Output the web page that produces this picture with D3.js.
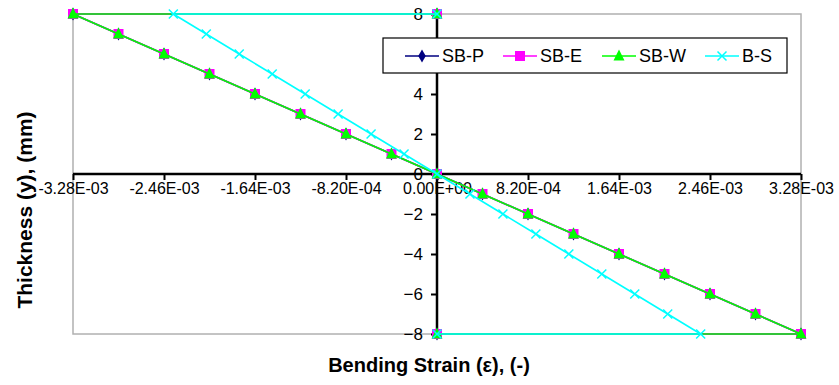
<!DOCTYPE html>
<html>
<head>
<meta charset="utf-8">
<script src="https://cdn.jsdelivr.net/npm/d3@7"></script>
<style>
  html, body { margin: 0; padding: 0; background: #fff; }
  svg { display: block; }
  text { font-family: "Liberation Sans", Arial, sans-serif; }
</style>
</head>
<body>
<svg id="chart" width="839" height="385"></svg>
<script>
// ---- data ----
const thickness = [8, 8, 7, 6, 5, 4, 3, 2, 1, 0, -1, -2, -3, -4, -5, -6, -7, -8, -8];
const sbpStrain = [0, -3.28e-3, -2.87e-3, -2.46e-3, -2.05e-3, -1.64e-3, -1.23e-3, -8.2e-4, -4.1e-4, 0, 4.1e-4, 8.2e-4, 1.23e-3, 1.64e-3, 2.05e-3, 2.46e-3, 2.87e-3, 3.28e-3, 0];
const sbeStrain = [0, -3.28e-3, -2.87e-3, -2.46e-3, -2.05e-3, -1.64e-3, -1.23e-3, -8.2e-4, -4.1e-4, 0, 4.1e-4, 8.2e-4, 1.23e-3, 1.64e-3, 2.05e-3, 2.46e-3, 2.87e-3, 3.28e-3, 0];
const sbwStrain = [0, -3.28e-3, -2.87e-3, -2.46e-3, -2.05e-3, -1.64e-3, -1.23e-3, -8.2e-4, -4.1e-4, 0, 4.1e-4, 8.2e-4, 1.23e-3, 1.64e-3, 2.05e-3, 2.46e-3, 2.87e-3, 3.28e-3, 0];
const bsStrain  = [0, -2.376e-3, -2.079e-3, -1.782e-3, -1.485e-3, -1.188e-3, -8.91e-4, -5.94e-4, -2.97e-4, 0, 2.97e-4, 5.94e-4, 8.91e-4, 1.188e-3, 1.485e-3, 1.782e-3, 2.079e-3, 2.376e-3, 0];
const seriesNames = ["SB-P", "SB-E", "SB-W", "B-S"];
const xTickValues = [-3.28e-3, -2.46e-3, -1.64e-3, -8.2e-4, 0, 8.2e-4, 1.64e-3, 2.46e-3, 3.28e-3];
const xTickLabels = ["-3.28E-03", "-2.46E-03", "-1.64E-03", "-8.20E-04", "0.00E+00", "8.20E-04", "1.64E-03", "2.46E-03", "3.28E-03"];
const yTickValues = [-8, -6, -4, -2, 0, 2, 4, 6, 8];
const xTitle = "Bending Strain (\u03b5), (-)";
const yTitle = "Thickness (y), (mm)";

// ---- styles ----
const styles = [
  { color: "#000080", marker: "diamond" },
  { color: "#FF00FF", marker: "square" },
  { color: "#00FF00", marker: "triangle" },
  { color: "#00FFFF", marker: "cross" }
];
const strains = [sbpStrain, sbeStrain, sbwStrain, bsStrain];

const svg = d3.select("#chart");
const plot = { left: 73, right: 801, top: 14, bottom: 334 };

const x = d3.scaleLinear().domain([-3.28e-3, 3.28e-3]).range([plot.left, plot.right]);
const y = d3.scaleLinear().domain([-8, 8]).range([plot.bottom, plot.top]);

// plot area border
svg.append("rect")
  .attr("x", plot.left).attr("y", plot.top)
  .attr("width", plot.right - plot.left).attr("height", plot.bottom - plot.top)
  .attr("fill", "none").attr("stroke", "#b0b0b0").attr("stroke-width", 1.5);

// x axis at y=0
const xAxis = d3.axisBottom(x).tickValues(xTickValues).tickSize(6)
  .tickFormat((d, i) => xTickLabels[i]);
const gx = svg.append("g").attr("transform", `translate(0,${y(0)})`).call(xAxis);
gx.select(".domain").attr("stroke", "#000").attr("stroke-width", 2.5)
  .attr("d", `M${plot.left},0H${plot.right}`);
gx.selectAll(".tick line").attr("stroke", "#000").attr("stroke-width", 2);
gx.selectAll(".tick text").attr("font-size", 16).attr("fill", "#000")
  .attr("font-family", "Liberation Sans, Arial, sans-serif").attr("y", 9).attr("dy", "0.71em");

// y axis at x=0
const yAxis = d3.axisLeft(y).tickValues(yTickValues).tickSize(6).tickFormat(d3.format("d"));
const gy = svg.append("g").attr("transform", `translate(${x(0)},0)`).call(yAxis);
gy.select(".domain").attr("stroke", "#000").attr("stroke-width", 2.5)
  .attr("d", `M0,${plot.top}V${plot.bottom}`);
gy.selectAll(".tick line").attr("stroke", "#000").attr("stroke-width", 2);
gy.selectAll(".tick text").attr("font-size", 17).attr("fill", "#000")
  .attr("font-family", "Liberation Sans, Arial, sans-serif").attr("x", -14).attr("dy", "0.3em");

// marker drawing
function drawMarker(g, type, color, cx, cy) {
  if (type === "diamond") {
    g.append("path").attr("d", d3.symbol().type(d3.symbolDiamond).size(50)())
      .attr("transform", `translate(${cx},${cy})`).attr("fill", color);
  } else if (type === "square") {
    g.append("rect").attr("x", cx - 5).attr("y", cy - 5).attr("width", 10).attr("height", 10)
      .attr("fill", color);
  } else if (type === "triangle") {
    g.append("path").attr("d", `M${cx},${cy - 6.5}L${cx + 5.5},${cy + 4.5}L${cx - 5.5},${cy + 4.5}Z`)
      .attr("fill", color);
  } else if (type === "cross") {
    g.append("path").attr("d", `M${cx - 4.5},${cy - 4.5}L${cx + 4.5},${cy + 4.5}M${cx - 4.5},${cy + 4.5}L${cx + 4.5},${cy - 4.5}`)
      .attr("stroke", color).attr("stroke-width", 1.5).attr("fill", "none");
  }
}

const line = d3.line().x(d => x(d[0])).y(d => y(d[1]));
strains.forEach((arr, si) => {
  const pts = arr.map((v, i) => [v, thickness[i]]);
  const g = svg.append("g");
  g.append("path").attr("d", line(pts)).attr("fill", "none")
    .attr("stroke", styles[si].color).attr("stroke-width", 1.6);
  pts.forEach(p => drawMarker(g, styles[si].marker, styles[si].color, x(p[0]), y(p[1])));
});

// legend
const lg = svg.append("g");
lg.append("rect").attr("x", 383).attr("y", 38).attr("width", 404).attr("height", 35)
  .attr("fill", "#fff").attr("stroke", "#000").attr("stroke-width", 1.2);
const legendX = [405, 503, 602, 705];
seriesNames.forEach((name, i) => {
  const lx = legendX[i], ly = 56;
  lg.append("line").attr("x1", lx).attr("x2", lx + 34).attr("y1", ly).attr("y2", ly)
    .attr("stroke", styles[i].color).attr("stroke-width", 1.6);
  drawMarker(lg, styles[i].marker, styles[i].color, lx + 17, ly);
  lg.append("text").attr("x", lx + 37).attr("y", ly).attr("dy", "0.36em")
    .attr("font-size", 18).attr("fill", "#000").text(name);
});

// axis titles
svg.append("text").attr("x", 429).attr("y", 372).attr("text-anchor", "middle")
  .attr("font-size", 20).attr("font-weight", "bold").attr("fill", "#000").text(xTitle);
svg.append("text").attr("transform", "translate(32,210) rotate(-90)").attr("text-anchor", "middle")
  .attr("font-size", 21).attr("font-weight", "bold").attr("fill", "#000").text(yTitle);
</script>
</body>
</html>
